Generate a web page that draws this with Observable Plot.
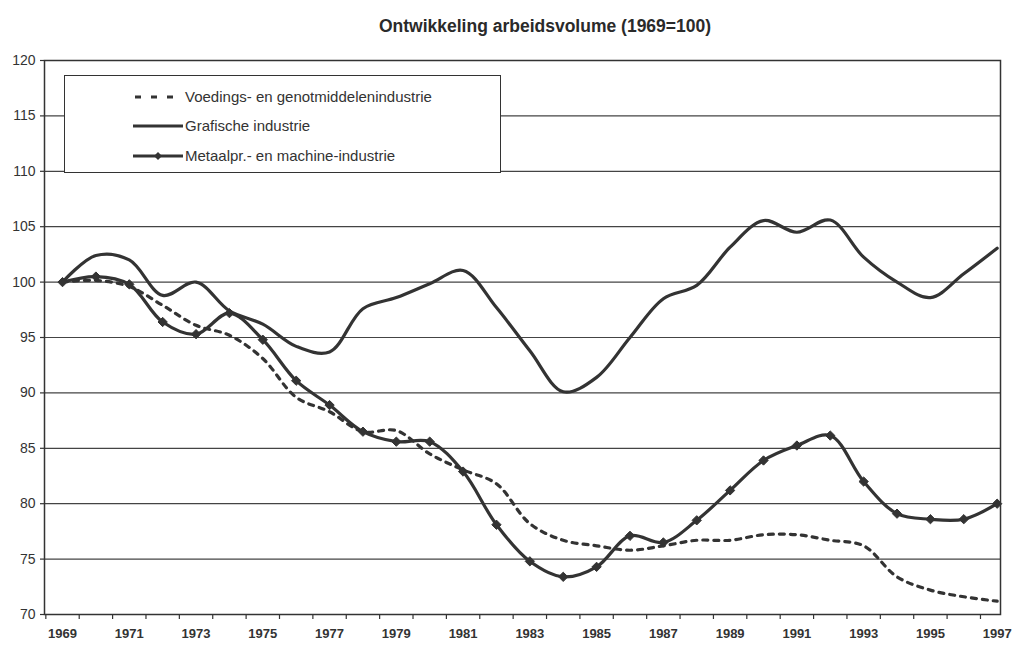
<!DOCTYPE html>
<html><head><meta charset="utf-8">
<script src="https://cdn.jsdelivr.net/npm/d3@7"></script>
<script src="https://cdn.jsdelivr.net/npm/@observablehq/plot@0.6"></script>
<style>
body{margin:0;background:#fff;font-family:"Liberation Sans",Arial,sans-serif;}
#wrap{position:relative;width:1015px;height:650px;}
#title{position:absolute;left:545px;top:16px;transform:translateX(-50%);white-space:nowrap;font-weight:bold;font-size:17.5px;color:#2a2a2a;}
#legend{position:absolute;left:64px;top:75px;width:437px;height:98px;border:1.5px solid #333;background:#fff;box-sizing:border-box;}
#legend svg{position:absolute;left:0;top:0;}
</style></head>
<body>
<div id="wrap">
  <div id="chart"></div>
  <div id="title">Ontwikkeling arbeidsvolume (1969=100)</div>
  <div id="legend"></div>
</div>
<script>
const years = d3.range(1969, 1998);
const voedings = [100, 100.15, 99.6, 97.9, 96.1, 95.2, 93.1, 89.6, 88.3, 86.5, 86.6, 84.5, 83.05, 81.8, 78.2, 76.7, 76.2, 75.8, 76.2, 76.7, 76.7, 77.2, 77.2, 76.7, 76.2, 73.4, 72.2, 71.6, 71.2];
const grafische = [100, 102.4, 102.0, 98.8, 100.0, 97.4, 96.2, 94.2, 93.7, 97.6, 98.6, 99.85, 101.05, 97.7, 93.8, 90.1, 91.4, 95.0, 98.5, 99.7, 103.15, 105.55, 104.5, 105.6, 102.25, 100.0, 98.6, 100.75, 103.05];
const metaal = [100, 100.5, 99.8, 96.4, 95.3, 97.2, 94.8, 91.1, 88.9, 86.5, 85.6, 85.6, 82.9, 78.1, 74.8, 73.4, 74.3, 77.1, 76.5, 78.5, 81.2, 83.9, 85.25, 86.15, 82.0, 79.1, 78.6, 78.6, 80.0];
const seriesNames = ["Voedings- en genotmiddelenindustrie", "Grafische industrie", "Metaalpr.- en machine-industrie"];
const yTicks = d3.range(70, 121, 5);
const xLabels = d3.range(1969, 1998, 2);
const xTickMarks = d3.range(1968.5, 1997.5, 1);

const toRows = (vals) => years.map((y, i) => ({year: y, value: vals[i]}));
const dV = toRows(voedings), dG = toRows(grafische), dM = toRows(metaal);

const ink = "#333";
const plot = Plot.plot({
  width: 1015, height: 650,
  marginTop: 60, marginBottom: 36, marginLeft: 44, marginRight: 15,
  style: {fontFamily: "'Liberation Sans', Arial, sans-serif", color: ink, background: "#fff"},
  x: {type: "linear", domain: [1968.46, 1997.1]},
  y: {type: "linear", domain: [70, 120]},
  marks: [
    Plot.ruleY(yTicks, {stroke: "#444", strokeWidth: 1.2}),
    Plot.frame({stroke: ink, strokeWidth: 1.5}),
    Plot.axisY({ticks: yTicks, tickSize: 4, tickPadding: 5, fontSize: 14, label: null, stroke: ink, strokeWidth: 1.2, fill: ink}),
    Plot.axisX({ticks: xTickMarks, tickFormat: () => "", tickSize: 5, label: null, stroke: ink, strokeWidth: 1.2}),
    Plot.text(xLabels, {x: d => d, frameAnchor: "bottom", dy: 23, text: d => String(d), fontSize: 13, fontWeight: "bold", fill: ink}),
    Plot.line(dV, {x: "year", y: "value", curve: "catmull-rom", stroke: ink, strokeWidth: 3.2, strokeDasharray: "5,6"}),
    Plot.line(dG, {x: "year", y: "value", curve: "catmull-rom", stroke: ink, strokeWidth: 3.2}),
    Plot.line(dM, {x: "year", y: "value", curve: "catmull-rom", stroke: ink, strokeWidth: 3.2}),
    Plot.dot(dM, {x: "year", y: "value", symbol: "diamond2", r: 4.2, fill: ink, stroke: ink, strokeWidth: 1})
  ]
});
document.getElementById("chart").appendChild(plot);

// legend
const lg = d3.select("#legend").append("svg").attr("width", 437).attr("height", 98);
const rowsY = [21, 50, 80];
const x0 = 70, x1 = 118;
lg.append("line").attr("x1", x0).attr("x2", x1 - 5).attr("y1", rowsY[0]).attr("y2", rowsY[0])
  .attr("stroke", ink).attr("stroke-width", 3.2).attr("stroke-dasharray", "6,10");
lg.append("line").attr("x1", x0 - 2).attr("x2", x1).attr("y1", rowsY[1]).attr("y2", rowsY[1])
  .attr("stroke", ink).attr("stroke-width", 3.2);
lg.append("line").attr("x1", x0 - 2).attr("x2", x1).attr("y1", rowsY[2]).attr("y2", rowsY[2])
  .attr("stroke", ink).attr("stroke-width", 3.2);
lg.append("path").attr("d", d3.symbol(d3.symbolDiamond2, 40)()).attr("transform", `translate(${(x0 + x1) / 2 - 1},${rowsY[2]})`).attr("fill", ink);
seriesNames.forEach((n, i) => {
  lg.append("text").attr("x", 120).attr("y", rowsY[i]).attr("dy", "0.35em")
    .attr("font-size", 15).attr("fill", ink).attr("font-family", "'Liberation Sans', Arial, sans-serif").text(n);
});
</script>
</body></html>
